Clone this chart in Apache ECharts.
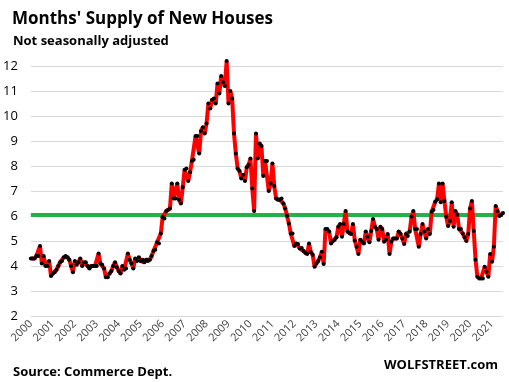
<!DOCTYPE html>
<html><head><meta charset="utf-8">
<script src="https://cdn.jsdelivr.net/npm/echarts@6/dist/echarts.min.js"></script>
<style>html,body{margin:0;padding:0;background:#fff}#c{width:509px;height:382px}</style>
</head><body><div id="c"></div>
<script>
var years = [2000,2001,2002,2003,2004,2005,2006,2007,2008,2009,2010,2011,2012,2013,2014,2015,2016,2017,2018,2019,2020,2021];
var monthsIn2021 = 7;
var supply = [
  4.3,4.3,4.3,4.4,4.4,4.8,4.1,4.4,4.0,4.0,4.2,3.6,
  3.7,3.75,3.85,4.0,4.15,4.2,4.35,4.4,4.35,4.25,4.0,3.75,
  4.2,4.05,4.15,4.3,4.0,4.15,4.15,4.0,3.9,4.0,4.0,4.0,
  4.0,4.5,4.1,4.05,3.9,3.55,3.55,3.7,3.8,4.0,4.15,3.95,
  3.8,3.7,4.0,3.85,3.9,4.5,4.25,4.1,3.9,4.3,4.2,4.35,
  4.2,4.25,4.15,4.25,4.2,4.25,4.4,4.6,4.65,4.95,4.9,5.3,
  5.95,5.9,6.2,6.25,6.3,7.3,6.7,6.7,7.3,6.65,6.5,7.15,
  7.85,7.9,7.4,7.75,8.2,8.25,9.2,9.2,8.5,9.4,9.55,9.3,
  9.7,10.5,10.3,10.65,10.7,10.5,11.3,10.9,11.6,11.35,11.2,12.2,
  10.5,11.0,10.7,9.3,8.5,7.9,7.8,7.5,7.65,7.4,7.95,8.05,
  8.3,7.1,6.2,9.3,8.3,8.9,8.8,7.6,8.2,8.2,7.0,7.3,
  8.1,7.2,6.7,6.65,6.65,6.7,6.5,6.3,6.0,5.7,5.3,5.3,
  4.8,4.9,4.88,4.7,4.72,4.6,4.52,4.48,4.9,4.55,4.45,3.97,
  4.1,4.2,4.35,4.57,4.08,5.48,5.48,5.38,4.9,5.0,5.05,5.15,
  5.57,5.68,5.17,5.68,6.2,5.38,5.32,5.28,5.68,5.02,4.77,4.48,
  5.05,4.97,4.9,5.38,5.17,4.95,5.4,5.88,5.57,5.48,5.05,5.57,
  5.48,4.97,5.05,5.28,4.48,4.97,5.1,5.1,5.1,5.38,5.28,5.1,
  4.88,5.28,5.2,5.38,5.97,6.2,5.48,5.48,4.77,5.28,5.68,5.38,
  5.1,5.48,5.28,6.17,6.24,6.57,6.67,7.3,6.55,7.3,6.6,5.97,
  5.6,5.8,6.55,5.57,6.2,6.05,5.48,5.48,5.3,5.15,5.0,5.28,
  6.3,6.6,5.4,4.25,3.57,3.5,3.5,3.5,3.97,3.77,3.57,4.48,
  4.17,4.77,6.4,6.2,6.0,6.05,6.12
];
var averageSupply = 6.05;
var yTicks = [2,3,4,5,6,7,8,9,10,11,12];

var categories = [];
years.forEach(function(y){
  var n = (y === 2021) ? monthsIn2021 : 12;
  for (var m = 1; m <= n; m++) categories.push(y + '-' + (m < 10 ? '0' + m : m));
});

var chart = echarts.init(document.getElementById('c'), null, {renderer:'canvas'});
var F = '"Open Sans", "Liberation Sans", sans-serif';
chart.setOption({
  animation:false,
  backgroundColor:'#fff',
  title:[
    {text:"Months' Supply of New Houses", left:7, top:6, textStyle:{fontFamily:F, fontWeight:'bold', fontSize:17, color:'#000'}},
    {text:'Not seasonally adjusted', left:8, top:30, textStyle:{fontFamily:F, fontWeight:'bold', fontSize:13, color:'#000'}},
    {text:'Source: Commerce Dept.', left:8, top:361, textStyle:{fontFamily:F, fontWeight:'bold', fontSize:13, color:'#000'}},
    {text:'WOLFSTREET.com', right:6, top:354, textStyle:{fontFamily:F, fontWeight:'bold', fontSize:13, color:'#000'}}
  ],
  grid:{left:30, right:6, top:66, bottom:66, containLabel:false},
  xAxis:{
    type:'category', data:categories, boundaryGap:false,
    axisLine:{show:false}, axisTick:{show:false}, splitLine:{show:false},
    axisLabel:{
      rotate:45, fontFamily:F, fontSize:11, color:'#404040', margin:6,
      interval:function(i, v){ return v.slice(5) === '01'; },
      formatter:function(v){ return v.slice(0,4); }
    }
  },
  yAxis:{
    type:'value', min:yTicks[0], max:yTicks[yTicks.length-1], interval:1,
    axisLine:{show:false}, axisTick:{show:false},
    splitLine:{show:true, lineStyle:{color:'#d9d9d9', width:1}},
    axisLabel:{fontFamily:F, fontSize:13, color:'#000', margin:13}
  },
  series:[
    {
      type:'line', data:supply, z:1, silent:true, symbol:'none',
      lineStyle:{opacity:0},
      markLine:{silent:true, symbol:'none', label:{show:false},
        lineStyle:{color:'#22b14c', width:4, type:'solid'},
        data:[{yAxis:averageSupply}]}
    },
    {
      type:'line', data:supply, z:5, clip:false,
      lineStyle:{color:'#ff0000', width:4},
      symbol:'circle', symbolSize:4, showAllSymbol:true,
      itemStyle:{color:'#000', borderWidth:0}
    }
  ]
});
</script></body></html>
